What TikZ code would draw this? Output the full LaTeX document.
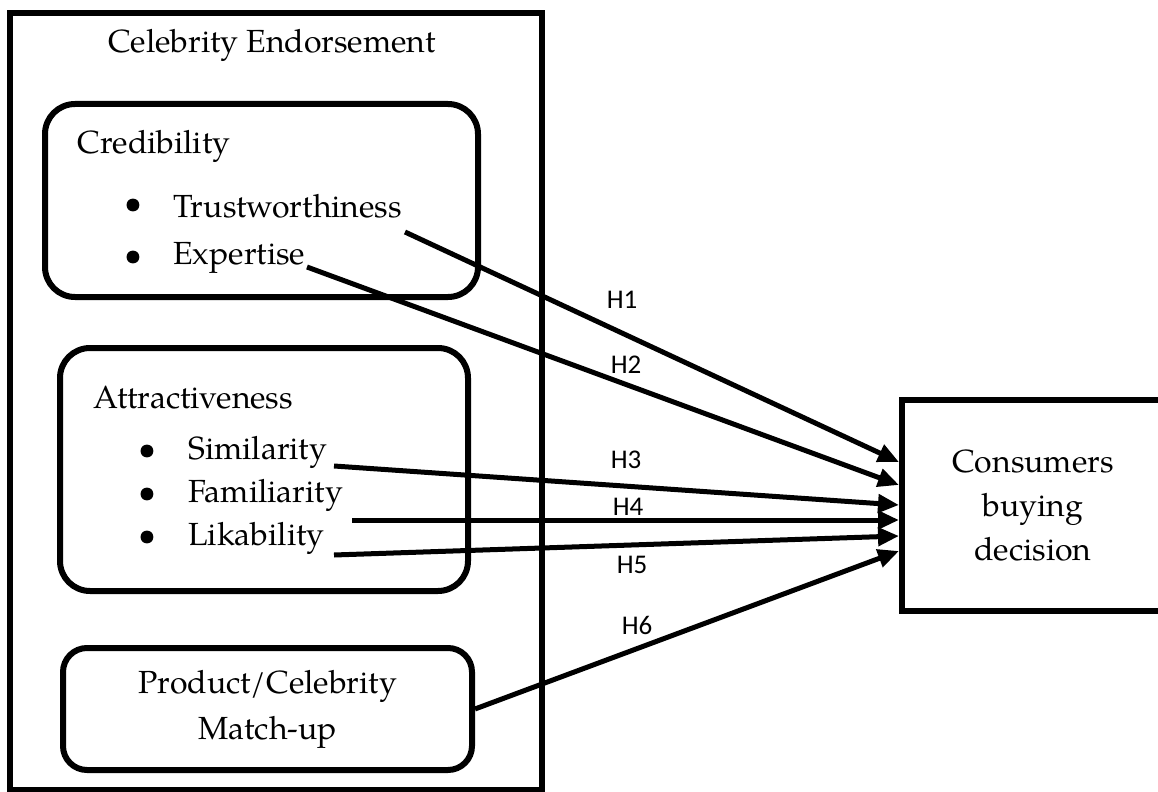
\documentclass[tikz,border=0pt]{standalone}
\usepackage{fontspec}
\setmainfont{TeX Gyre Pagella}
\newfontfamily\hypfont{Carlito}
\usetikzlibrary{positioning,arrows.meta}

\begin{document}
\begin{tikzpicture}[x=0.5pt,y=-0.5pt,font=\fontsize{16}{22}\selectfont,
  groupbox/.style={draw,line width=3pt,rounded corners=15pt,inner sep=0pt},
  item/.style={anchor=west,inner sep=0pt},
  hyp/.style={-{Triangle[length=10.5pt,width=9pt]},line width=2.5pt},
  hyplabel/.style={font=\hypfont\fontsize{13.5}{16}\selectfont}]

\useasboundingbox (0,0) rectangle (1158,792);
\clip (0,0) rectangle (1158,792);

% outer frame
\node[draw,line width=3pt,inner sep=0pt,minimum width=266pt,minimum height=388.5pt] (endorse) at (276,401.5) {};
\node (title) at (272,45) {Celebrity Endorsement};

% credibility
\node[groupbox,minimum width=216.5pt,minimum height=96.5pt] (cred) at (261.5,200.5) {};
\node[item] (credtitle) at (77,146) {Credibility};
\node (b1) at (133,206) {\textbullet};
\node[item] (trust) at (173,206) {Trustworthiness};
\node (b2) at (133,258) {\textbullet};
\node[item] (expert) at (173,258) {Expertise};

% attractiveness
\node[groupbox,minimum width=204pt,minimum height=121.5pt] (attr) at (264,469.5) {};
\node[item] (attrtitle) at (93,398) {Attractiveness};
\node (b3) at (147,452) {\textbullet};
\node[item] (simil) at (188,452) {Similarity};
\node (b4) at (147,495) {\textbullet};
\node[item] (famil) at (188,495) {Familiarity};
\node (b5) at (147,538) {\textbullet};
\node[item] (likab) at (188,538) {Likability};

% match-up
\node[groupbox,rounded corners=12pt,minimum width=204.5pt,minimum height=61pt,align=center,
  font=\fontsize{16}{23}\selectfont] (prod) at (267.5,709) {Product/Celebrity\\Match-up};

% outcome
\node[draw,line width=3pt,inner sep=0pt,minimum width=131pt,minimum height=105.5pt,align=center] (cons) at (1033,505.5) {Consumers\\buying\\decision};

\coordinate (s1) at (405,232);
\coordinate (s2) at (307,267);
\coordinate (s3) at (334,466);
\coordinate (s4) at (352,520);
\coordinate (s5) at (334,555);

\draw[hyp] (s1) -- (cons.west |- 0,462);
\draw[hyp] (s2) -- (cons.west |- 0,485);
\draw[hyp] (s3) -- (cons.west |- 0,505);
\draw[hyp] (s4) -- (cons.west |- 0,520);
\draw[hyp] (s5) -- (cons.west |- 0,536);
\draw[hyp] (prod.east) -- (cons.west |- 0,551);

\node[hyplabel] (h1) at (622,300) {H1};
\node[hyplabel] (h2) at (626,365) {H2};
\node[hyplabel] (h3) at (626,460) {H3};
\node[hyplabel] (h4) at (628,507) {H4};
\node[hyplabel] (h5) at (632,565) {H5};
\node[hyplabel] (h6) at (637,625) {H6};

\end{tikzpicture}
\end{document}
